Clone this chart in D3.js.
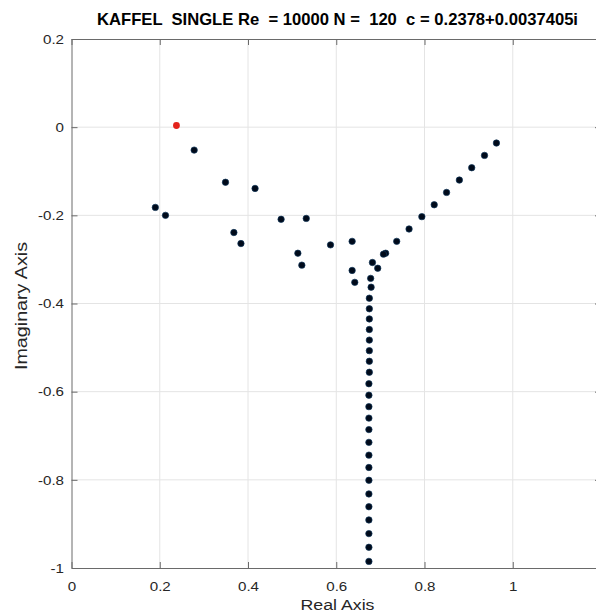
<!DOCTYPE html>
<html>
<head>
<meta charset="utf-8">
<script src="https://cdn.jsdelivr.net/npm/d3@7"></script>
<style>
  body { margin: 0; background: #fff; }
  svg { display: block; font-family: "Liberation Sans", Arial, sans-serif; }
  text { white-space: pre; }
</style>
</head>
<body>
<script>
// eigenvalue spectrum
var realParts = [0.278, 0.349, 0.416, 0.190, 0.213, 0.475, 0.532, 0.368, 0.384, 0.587,
                 0.513, 0.522, 0.636, 0.636, 0.642,
                 0.963, 0.936, 0.907, 0.879, 0.850, 0.822, 0.794, 0.765, 0.737, 0.712,
                 0.707, 0.694, 0.682,
                 0.678, 0.679, 0.675, 0.675, 0.675, 0.675, 0.675, 0.675, 0.675, 0.675,
                 0.674, 0.674, 0.674, 0.674, 0.674, 0.674, 0.674, 0.674, 0.674, 0.674,
                 0.674, 0.674, 0.674, 0.674, 0.674];
var imagParts = [-0.052, -0.125, -0.139, -0.182, -0.200, -0.209, -0.207, -0.239, -0.264, -0.267,
                 -0.286, -0.313, -0.259, -0.325, -0.352,
                 -0.036, -0.064, -0.092, -0.120, -0.148, -0.176, -0.203, -0.231, -0.259, -0.286,
                 -0.288, -0.320, -0.307,
                 -0.343, -0.363, -0.388, -0.412, -0.435, -0.459, -0.483, -0.507, -0.531, -0.556,
                 -0.582, -0.608, -0.634, -0.660, -0.686, -0.715, -0.744, -0.772, -0.801, -0.832,
                 -0.861, -0.891, -0.922, -0.953, -0.985];
var selectedC = [0.2378, 0.0037405];

var xTicks = [0, 0.2, 0.4, 0.6, 0.8, 1];
var yTicks = [0.2, 0, -0.2, -0.4, -0.6, -0.8, -1];
var xDomain = [0, 1.2];
var yDomain = [-1, 0.2];

var titleText = "KAFFEL  SINGLE Re  = 10000 N =  120  c = 0.2378+0.0037405i";

var width = 596, height = 616;
var plotLeft = 71.5, plotRight = 601, plotTop = 39, plotBottom = 568;

var svg = d3.select("body")
            .append("svg")
            .attr("width", width)
            .attr("height", height);

var x = d3.scaleLinear().domain(xDomain).range([plotLeft, plotRight]);
var y = d3.scaleLinear().domain(yDomain).range([plotBottom, plotTop]);

// the reference font runs wider than Liberation Sans, so stretch texts a bit
function widen(sel, k) {
  sel.each(function() {
    var w = this.getComputedTextLength();
    d3.select(this).attr("textLength", w * k).attr("lengthAdjust", "spacingAndGlyphs");
  });
}

// grid
svg.append("g").selectAll("line")
    .data(xTicks.filter(function(d) { return d > 0; }))
    .enter().append("line")
    .attr("x1", function(d) { return x(d); })
    .attr("x2", function(d) { return x(d); })
    .attr("y1", plotTop).attr("y2", plotBottom)
    .attr("stroke", "#e4e4e4").attr("stroke-width", 1);

svg.append("g").selectAll("line")
    .data(yTicks.filter(function(d) { return d > -1 && d < 0.2; }))
    .enter().append("line")
    .attr("y1", function(d) { return y(d); })
    .attr("y2", function(d) { return y(d); })
    .attr("x1", plotLeft).attr("x2", plotRight)
    .attr("stroke", "#e4e4e4").attr("stroke-width", 1);

// axes (ticks pointing inward, like matlab)
var fmt = function(d) { return String(d); };
var xAxis = d3.axisBottom(x).tickValues(xTicks).tickFormat(fmt).tickSizeInner(-6).tickSizeOuter(0).tickPadding(13);
var xTop = d3.axisTop(x).tickValues(xTicks).tickFormat("").tickSizeInner(-6).tickSizeOuter(0);
var yAxis = d3.axisLeft(y).tickValues(yTicks).tickFormat(fmt).tickSizeInner(-6).tickSizeOuter(0).tickPadding(7.5);
var yRight = d3.axisRight(y).tickValues(yTicks).tickFormat("").tickSizeInner(-6).tickSizeOuter(0);

var axes = [
  svg.append("g").attr("transform", "translate(0," + plotBottom + ")").call(xAxis),
  svg.append("g").attr("transform", "translate(0," + plotTop + ")").call(xTop),
  svg.append("g").attr("transform", "translate(" + plotLeft + ",0)").call(yAxis),
  svg.append("g").attr("transform", "translate(" + plotRight + ",0)").call(yRight)
];
axes.forEach(function(g) {
  g.select(".domain").attr("stroke", "#6a6a6a");
  g.selectAll(".tick line").attr("stroke", "#6a6a6a");
  g.selectAll(".tick text").attr("fill", "#262626").style("font-size", "13.5px").call(widen, 1.12);
});

// eigenvalues
var pts = realParts.map(function(r, i) { return {re: r, im: imagParts[i]}; });

svg.append("g").selectAll("circle")
    .data(pts)
    .enter().append("circle")
    .attr("cx", function(d) { return x(d.re); })
    .attr("cy", function(d) { return y(d.im); })
    .attr("r", 3.2)
    .attr("fill", "#000a1a")
    .attr("stroke", "#0d3358")
    .attr("stroke-width", 0.7);

svg.append("circle")
    .datum({re: selectedC[0], im: selectedC[1]})
    .attr("cx", function(d) { return x(d.re); })
    .attr("cy", function(d) { return y(d.im); })
    .attr("r", 3.4)
    .attr("fill", "#e3221b");

// labels
svg.append("text")
    .attr("x", 337.5).attr("y", 24.5)
    .attr("text-anchor", "middle")
    .style("font-size", "16.5px").style("font-weight", "bold")
    .attr("fill", "#000")
    .attr("textLength", 481).attr("lengthAdjust", "spacingAndGlyphs")
    .text(titleText);

svg.append("text")
    .attr("x", 337.5).attr("y", 610)
    .attr("text-anchor", "middle")
    .style("font-size", "15.5px")
    .attr("fill", "#262626")
    .attr("textLength", 74).attr("lengthAdjust", "spacingAndGlyphs")
    .text("Real Axis");

svg.append("text")
    .attr("transform", "translate(26.5,306) rotate(-90)")
    .attr("text-anchor", "middle")
    .style("font-size", "16px")
    .attr("fill", "#262626")
    .attr("textLength", 128).attr("lengthAdjust", "spacingAndGlyphs")
    .text("Imaginary Axis");
</script>
</body>
</html>
